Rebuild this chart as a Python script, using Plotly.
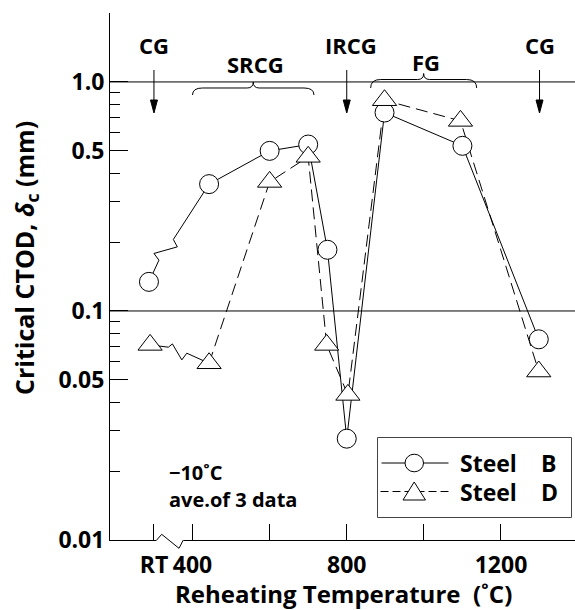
import plotly.graph_objects as go

# ---------------- data ----------------
temp_B = [287, 443, 600, 700, 750, 800, 898, 1100, 1298]
ctod_B = [0.134, 0.358, 0.50, 0.533, 0.185, 0.0277, 0.735, 0.526, 0.0752]
temp_D = [290, 443, 600, 700, 748, 803, 898, 1095, 1298]
ctod_D = [0.0711, 0.0591, 0.366, 0.471, 0.0711, 0.043, 0.832, 0.676, 0.0544]

x_tickvals = [300, 400, 800, 1200]
x_ticktext = ["RT", "400", "800", "1200"]
x_minor = [600, 1000]
y_tickvals = [0.01, 0.05, 0.1, 0.5, 1.0]
y_ticktext = ["0.01", "0.05", "0.1", "0.5", "1.0"]
y_minor = [0.02, 0.03, 0.04, 0.06, 0.07, 0.08, 0.09,
           0.2, 0.3, 0.4, 0.6, 0.7, 0.8, 0.9]
y_major_right = [0.05, 0.5]
y_grid = [0.1, 1.0]

arrow_regions = [("CG", 300), ("IRCG", 800), ("CG", 1300)]
brace_regions = [("SRCG", 400, 715), ("FG", 862, 1137)]

# ---------------- layout geometry ----------------
W, H = 575, 610
L, R, T, B = 110, 0, 13, 70
X_RANGE = [186, 1392]
Y_RANGE = [-2, 0.301]
PW, PH = W - L - R, H - T - B
PXX = PW / (X_RANGE[1] - X_RANGE[0])        # px per degree
PXD = PH / (Y_RANGE[1] - Y_RANGE[0])        # px per decade

FONT = "Open Sans"


def xpix(v):
    return L + (v - X_RANGE[0]) * PXX


def ppx(p):
    return (p - L) / PW


def ppy(p):
    return (H - B - p) / PH


def zigzag(x0, y0, x1, y1, offs):
    xs, ys = [x0], [y0]
    for dx, dy in offs:
        xs.append(x0 + dx / PXX)
        ys.append(y0 * 10 ** (-dy / PXD))
    xs.append(x1)
    ys.append(y1)
    return xs, ys


def bold(size):
    return dict(size=size, family=FONT, weight=700, color="black")


fig = go.Figure()

# zigzag (broken) connections from RT to the first reheated point
zx, zy = zigzag(temp_B[0], ctod_B[0], temp_B[1], ctod_B[1],
                [(10, -21.7), (5, -28.4), (28.4, -35), (24.4, -42.4)])
fig.add_trace(go.Scatter(x=zx, y=zy, mode="lines",
                         line=dict(color="black", width=1), showlegend=False,
                         hoverinfo="skip"))
zx, zy = zigzag(temp_D[0], ctod_D[0], temp_D[1], ctod_D[1],
                [(18.3, 2.3), (22.3, -1), (31.7, 15), (36.7, 8.3)])
fig.add_trace(go.Scatter(x=zx, y=zy, mode="lines",
                         line=dict(color="black", width=1), showlegend=False,
                         hoverinfo="skip"))

# series lines
fig.add_trace(go.Scatter(x=temp_B[1:], y=ctod_B[1:], mode="lines",
                         line=dict(color="black", width=1), showlegend=False))
fig.add_trace(go.Scatter(x=temp_D[1:], y=ctod_D[1:], mode="lines",
                         line=dict(color="black", width=1, dash="12px,6px"),
                         showlegend=False))
# markers
fig.add_trace(go.Scatter(x=temp_B, y=ctod_B, mode="markers", name="Steel B",
                         marker=dict(symbol="circle", size=19, color="white",
                                     line=dict(color="black", width=1)),
                         showlegend=False))
fig.add_trace(go.Scatter(x=temp_D, y=ctod_D, mode="markers", name="Steel D",
                         marker=dict(symbol="triangle-up", size=21, color="white",
                                     line=dict(color="black", width=1)),
                         showlegend=False))

shapes = []
annotations = []

# horizontal reference lines at 0.1 and 1.0
for g in y_grid:
    shapes.append(dict(type="line", xref="paper", x0=0, x1=1, yref="y",
                       y0=g, y1=g, line=dict(color="black", width=1),
                       layer="below"))

# axis break on x axis
shapes.append(dict(type="line", xref="paper", yref="paper",
                   x0=ppx(156.5), x1=ppx(183.5), y0=0, y1=0,
                   line=dict(color="white", width=3), layer="above"))
pts = [(156.7, 540), (161.7, 534.3), (179, 548.3), (183.3, 540)]
path = "M " + " L ".join(f"{ppx(a):.5f},{ppy(b):.5f}" for a, b in pts)
shapes.append(dict(type="path", xref="paper", yref="paper", path=path,
                   line=dict(color="black", width=1), layer="above"))

# region labels with arrows
for lab, xv in arrow_regions:
    xp = xpix(xv)
    shapes.append(dict(type="line", xref="paper", yref="paper",
                       x0=ppx(xp), x1=ppx(xp), y0=ppy(70), y1=ppy(102),
                       line=dict(color="black", width=1)))
    tri = (f"M {ppx(xp-3.5):.5f},{ppy(100):.5f} L {ppx(xp+3.5):.5f},{ppy(100):.5f} "
           f"L {ppx(xp):.5f},{ppy(113):.5f} Z")
    shapes.append(dict(type="path", xref="paper", yref="paper", path=tri,
                       fillcolor="black", line=dict(color="black", width=1)))
    annotations.append(dict(text=lab, xref="paper", yref="paper",
                            x=ppx(xp + (4 if lab == "IRCG" else 0)), y=ppy(45.5),
                            xanchor="center", yanchor="middle", showarrow=False,
                            font=bold(22)))

# region labels with braces
brace_y = {"SRCG": (88, 82, 95, 63.5), "FG": (79.5, 73.5, 88, 62.5)}
for lab, x0v, x1v in brace_regions:
    yl, yt, ye, ytxt = brace_y[lab]
    a, b = xpix(x0v), xpix(x1v)
    m = (a + b) / 2
    r = 10
    r2 = 6
    P = lambda u, v: f"{ppx(u):.5f},{ppy(v):.5f}"
    path = (f"M {P(a, ye)} Q {P(a, yl)} {P(a + r, yl)} L {P(m - r2, yl)} "
            f"Q {P(m, yl)} {P(m, yt)} Q {P(m, yl)} {P(m + r2, yl)} "
            f"L {P(b - r, yl)} Q {P(b, yl)} {P(b, ye)}")
    shapes.append(dict(type="path", xref="paper", yref="paper", path=path,
                       line=dict(color="black", width=1)))
    annotations.append(dict(text=lab, xref="paper", yref="paper",
                            x=ppx(m + 2), y=ppy(ytxt), xanchor="center",
                            yanchor="middle", showarrow=False, font=bold(22)))

# test condition note
annotations.append(dict(text="−10˚C", xref="paper", yref="paper",
                        x=ppx(167), y=ppy(473), xanchor="left", yanchor="middle",
                        showarrow=False, font=bold(20)))
annotations.append(dict(text="ave.of 3 data", xref="paper", yref="paper",
                        x=ppx(167), y=ppy(499.5), xanchor="left", yanchor="middle",
                        showarrow=False, font=bold(20)))

# custom legend
shapes.append(dict(type="rect", xref="paper", yref="paper",
                   x0=ppx(377.5), x1=ppx(571.5), y0=ppy(437.5), y1=ppy(517.5),
                   line=dict(color="#444", width=1), fillcolor="white", layer="above"))
rowB, rowD = 463, 491.5
shapes.append(dict(type="line", xref="paper", yref="paper",
                   x0=ppx(381.5), x1=ppx(448.5), y0=ppy(rowB), y1=ppy(rowB),
                   line=dict(color="black", width=1), layer="above"))
shapes.append(dict(type="circle", xref="paper", yref="paper",
                   x0=ppx(405), x1=ppx(423.5), y0=ppy(rowB - 8.8), y1=ppy(rowB + 8.8),
                   line=dict(color="black", width=1), fillcolor="white", layer="above"))
shapes.append(dict(type="line", xref="paper", yref="paper",
                   x0=ppx(380.5), x1=ppx(448.5), y0=ppy(rowD), y1=ppy(rowD),
                   line=dict(color="black", width=1, dash="8px,4px"), layer="above"))
tri = (f"M {ppx(403):.5f},{ppy(rowD + 8.5):.5f} L {ppx(425.5):.5f},{ppy(rowD + 8.5):.5f} "
       f"L {ppx(414.2):.5f},{ppy(rowD - 9.5):.5f} Z")
shapes.append(dict(type="path", xref="paper", yref="paper", path=tri,
                   line=dict(color="black", width=1), fillcolor="white", layer="above"))
for txt, yy in (("B", rowB), ("D", rowD)):
    annotations.append(dict(text="Steel", xref="paper", yref="paper",
                            x=ppx(458), y=ppy(yy), xanchor="left", yanchor="middle",
                            showarrow=False, font=bold(23)))
    annotations.append(dict(text=txt, xref="paper", yref="paper",
                            x=ppx(539), y=ppy(yy), xanchor="left", yanchor="middle",
                            showarrow=False, font=bold(23)))

# axis titles
annotations.append(dict(text="Reheating Temperature  (˚C)", xref="paper", yref="paper",
                        x=ppx(343), y=ppy(593), xanchor="center", yanchor="middle",
                        showarrow=False, font=bold(24)))
annotations.append(dict(text="Critical CTOD, <i>δ</i><sub>c</sub> (mm)",
                        xref="paper", yref="paper", textangle=-90,
                        x=ppx(25), y=ppy(258), xanchor="center", yanchor="middle",
                        showarrow=False, font=bold(25)))

tickfont = bold(23)
fig.update_layout(
    width=W, height=H,
    margin=dict(l=L, r=R, t=T, b=B),
    paper_bgcolor="white", plot_bgcolor="white",
    showlegend=False,
    xaxis=dict(range=X_RANGE, tickvals=x_tickvals, ticktext=x_ticktext,
               ticks="inside", ticklen=16, tickwidth=1, tickcolor="black",
               showline=True, linecolor="black", linewidth=1,
               showgrid=False, zeroline=False, tickfont=tickfont,
               ticklabelstandoff=4,
               minor=dict(tickvals=x_minor, ticks="inside", ticklen=16,
                          tickwidth=1, tickcolor="black", showgrid=False)),
    xaxis2=dict(range=X_RANGE, overlaying="x", side="top", anchor="y",
                tickvals=x_tickvals + x_minor, ticks="inside", ticklen=17,
                tickwidth=1, tickcolor="black", showticklabels=False,
                showline=True, linecolor="black", linewidth=1,
                showgrid=False, zeroline=False),
    yaxis=dict(type="log", range=Y_RANGE, tickvals=y_tickvals, ticktext=y_ticktext,
               ticks="inside", ticklen=18, tickwidth=1, tickcolor="black",
               showline=True, linecolor="black", linewidth=1,
               showgrid=False, zeroline=False, tickfont=tickfont,
               minor=dict(tickvals=y_minor, ticks="inside", ticklen=10,
                          tickwidth=1, tickcolor="black", showgrid=False)),
    yaxis2=dict(type="log", range=Y_RANGE, overlaying="y", side="right", anchor="x",
                tickvals=y_major_right, ticks="inside", ticklen=15, tickwidth=1,
                tickcolor="black", showticklabels=False, showline=False,
                showgrid=False, zeroline=False),
    shapes=shapes,
    annotations=annotations,
)

fig.write_html("out.html",
               config={"displayModeBar": False},
               post_script="document.body.style.margin='0';"
                           "document.body.style.overflow='hidden';")
